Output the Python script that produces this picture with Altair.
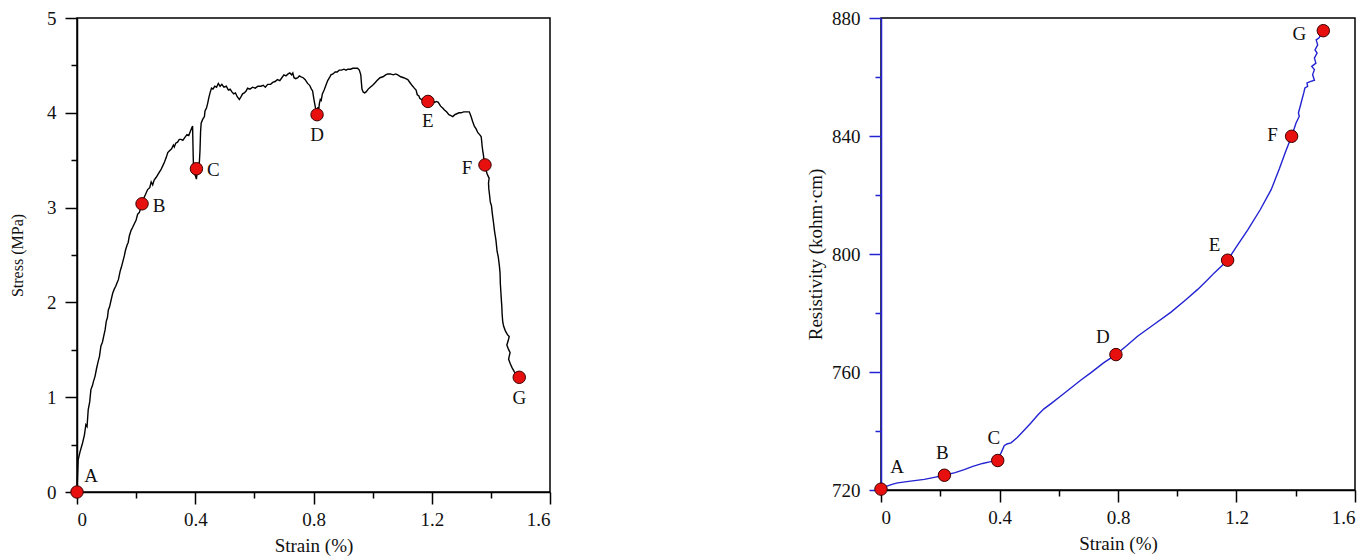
import altair as alt
import pandas as pd

FONT = "Liberation Serif"

# ---------------- Left panel: stress vs strain ----------------
s_strain = [0.0, 0.002, 0.004, 0.010, 0.019, 0.025, 0.030, 0.034, 0.038, 0.043, 0.047, 0.052, 0.056,
            0.061, 0.066, 0.071, 0.076, 0.081, 0.086, 0.090, 0.095, 0.099, 0.103, 0.106, 0.110, 0.115,
            0.121, 0.126, 0.131, 0.136, 0.140, 0.146, 0.150, 0.155, 0.160, 0.164, 0.170, 0.173, 0.177,
            0.183, 0.188, 0.194, 0.200, 0.205, 0.211, 0.216, 0.220, 0.226, 0.232, 0.239, 0.246, 0.251,
            0.256, 0.261, 0.268, 0.276, 0.284, 0.290, 0.296, 0.302, 0.307, 0.313, 0.320, 0.326, 0.329,
            0.334, 0.340, 0.346, 0.352, 0.358, 0.365, 0.372, 0.378, 0.383, 0.388, 0.391, 0.392, 0.393,
            0.394, 0.396, 0.400, 0.404, 0.406, 0.410, 0.414, 0.416, 0.418, 0.420, 0.425, 0.431, 0.433,
            0.438, 0.442, 0.446, 0.450, 0.455, 0.460, 0.466, 0.472, 0.478, 0.484, 0.490, 0.497, 0.505,
            0.512, 0.518, 0.524, 0.530, 0.536, 0.542, 0.549, 0.555, 0.560, 0.566, 0.572, 0.577, 0.585,
            0.594, 0.603, 0.612, 0.622, 0.630, 0.637, 0.645, 0.655, 0.662, 0.670, 0.678, 0.686, 0.693,
            0.700, 0.707, 0.714, 0.720, 0.726, 0.730, 0.734, 0.740, 0.747, 0.752, 0.758, 0.765, 0.772,
            0.780, 0.787, 0.793, 0.797, 0.801, 0.805, 0.808, 0.812, 0.815, 0.817, 0.820, 0.823, 0.826,
            0.830, 0.836, 0.842, 0.848, 0.854, 0.859, 0.866, 0.873, 0.880, 0.887, 0.895, 0.903, 0.910,
            0.916, 0.925, 0.933, 0.941, 0.949, 0.955, 0.960, 0.962, 0.964, 0.968, 0.973, 0.978, 0.985,
            0.992, 1.000, 1.006, 1.015, 1.025, 1.035, 1.044, 1.051, 1.060, 1.070, 1.078, 1.085, 1.095,
            1.105, 1.112, 1.119, 1.126, 1.133, 1.141, 1.147, 1.151, 1.156, 1.160, 1.166, 1.173, 1.180,
            1.187, 1.195, 1.203, 1.210, 1.216, 1.222, 1.230, 1.237, 1.243, 1.250, 1.258, 1.265, 1.271,
            1.278, 1.285, 1.292, 1.299, 1.308, 1.317, 1.327, 1.333, 1.338, 1.344, 1.350, 1.356, 1.362,
            1.367, 1.369, 1.370, 1.372, 1.375, 1.377, 1.380, 1.383, 1.388, 1.394, 1.392, 1.393, 1.396,
            1.398, 1.402, 1.404, 1.406, 1.409, 1.412, 1.415, 1.417, 1.419, 1.421, 1.425, 1.427, 1.429,
            1.431, 1.432, 1.434, 1.436, 1.437, 1.438, 1.440, 1.443, 1.449, 1.456, 1.462, 1.459, 1.454,
            1.459, 1.465, 1.462, 1.460, 1.466, 1.472, 1.479, 1.487, 1.496]
s_stress = [0.00, 0.18, 0.34, 0.42, 0.52, 0.60, 0.71, 0.69, 0.87, 0.95, 1.08, 1.12, 1.17,
            1.22, 1.30, 1.37, 1.43, 1.54, 1.58, 1.64, 1.71, 1.80, 1.84, 1.92, 1.95, 2.02,
            2.10, 2.14, 2.17, 2.21, 2.24, 2.33, 2.37, 2.43, 2.49, 2.55, 2.61, 2.63, 2.70,
            2.76, 2.79, 2.83, 2.87, 2.93, 2.95, 3.00, 3.04, 3.10, 3.14, 3.19, 3.21, 3.27,
            3.24, 3.29, 3.32, 3.36, 3.40, 3.44, 3.48, 3.53, 3.58, 3.60, 3.62, 3.66, 3.64,
            3.68, 3.69, 3.72, 3.72, 3.71, 3.74, 3.77, 3.76, 3.80, 3.84, 3.86, 3.70, 3.55,
            3.45, 3.36, 3.34, 3.30, 3.36, 3.45, 3.48, 3.60, 3.80, 3.89, 3.93, 3.96, 4.02,
            4.05, 4.10, 4.16, 4.21, 4.26, 4.25, 4.28, 4.27, 4.31, 4.28, 4.30, 4.27, 4.28,
            4.24, 4.25, 4.22, 4.20, 4.21, 4.17, 4.14, 4.17, 4.20, 4.21, 4.23, 4.26, 4.25,
            4.27, 4.26, 4.28, 4.28, 4.29, 4.27, 4.30, 4.30, 4.32, 4.33, 4.35, 4.34, 4.37,
            4.40, 4.39, 4.41, 4.42, 4.40, 4.42, 4.37, 4.36, 4.37, 4.39, 4.38, 4.37, 4.35,
            4.31, 4.29, 4.25, 4.23, 4.15, 4.08, 4.03, 3.98, 4.06, 4.02, 4.10, 4.14, 4.13,
            4.20, 4.24, 4.29, 4.34, 4.37, 4.40, 4.41, 4.43, 4.43, 4.45, 4.45, 4.46, 4.45,
            4.46, 4.46, 4.47, 4.47, 4.47, 4.45, 4.40, 4.32, 4.25, 4.22, 4.21, 4.22, 4.25,
            4.27, 4.29, 4.31, 4.34, 4.37, 4.38, 4.40, 4.41, 4.41, 4.40, 4.41, 4.40, 4.38,
            4.37, 4.36, 4.35, 4.32, 4.29, 4.26, 4.24, 4.19, 4.18, 4.15, 4.14, 4.12, 4.13,
            4.12, 4.12, 4.13, 4.11, 4.12, 4.11, 4.07, 4.05, 4.03, 4.01, 3.98, 3.97, 3.96,
            3.98, 3.99, 4.00, 4.00, 4.01, 4.01, 4.01, 3.96, 3.91, 3.86, 3.83, 3.79, 3.77,
            3.75, 3.70, 3.66, 3.61, 3.55, 3.49, 3.45, 3.40, 3.35, 3.31, 3.26, 3.20, 3.12,
            3.06, 3.02, 2.96, 2.91, 2.84, 2.76, 2.70, 2.66, 2.60, 2.54, 2.48, 2.43, 2.38,
            2.31, 2.20, 2.10, 2.00, 1.96, 1.88, 1.80, 1.75, 1.70, 1.66, 1.64, 1.60, 1.55,
            1.51, 1.47, 1.43, 1.40, 1.35, 1.31, 1.27, 1.24, 1.21]

s_pt_label = ["A", "B", "C", "D", "E", "F", "G"]
s_pt_strain = [0.0, 0.220, 0.404, 0.812, 1.187, 1.380, 1.496]
s_pt_stress = [0.0, 3.04, 3.41, 3.98, 4.12, 3.45, 1.21]

# ---------------- Right panel: resistivity vs strain ----------------
r_strain = [0.0, 0.02, 0.04, 0.056, 0.10, 0.146, 0.18, 0.214, 0.25, 0.281, 0.31, 0.343, 0.37,
            0.394, 0.405, 0.416, 0.425, 0.439, 0.46, 0.48, 0.506, 0.53, 0.55, 0.574, 0.61, 0.641,
            0.675, 0.709, 0.75, 0.793, 0.83, 0.866, 0.92, 0.979, 1.03, 1.069, 1.10, 1.125, 1.17,
            1.20, 1.238, 1.28, 1.317, 1.345, 1.365, 1.386, 1.401, 1.412, 1.409, 1.418, 1.427,
            1.431, 1.440, 1.438, 1.451, 1.463, 1.457, 1.463, 1.454, 1.468, 1.463, 1.472, 1.465,
            1.474, 1.469, 1.478, 1.493]
r_res = [720.3, 721.3, 722.0, 722.4, 723.0, 723.6, 724.3, 725.0, 725.9, 726.9, 728.0, 729.0, 729.6,
         730.5, 732.5, 735.0, 735.6, 736.0, 737.8, 739.9, 742.7, 745.5, 747.5, 749.3, 752.1, 754.6,
         757.3, 759.8, 763.0, 765.9, 769.0, 772.1, 776.0, 780.3, 784.6, 788.0, 791.0, 793.6, 797.9,
         802.5, 808.2, 815.0, 821.8, 829.0, 834.5, 839.9, 844.4, 846.7, 847.8, 851.2, 854.6,
         856.3, 856.8, 858.0, 858.5, 858.9, 860.8, 862.5, 863.6, 864.7, 866.4, 868.1, 869.2,
         870.9, 872.6, 873.2, 875.7]

r_pt_label = ["A", "B", "C", "D", "E", "F", "G"]
r_pt_strain = [0.0, 0.214, 0.394, 0.793, 1.170, 1.386, 1.493]
r_pt_res = [720.3, 725.0, 730.0, 765.9, 797.9, 839.9, 875.7]

# label offsets (style only)
s_offsets = {"A": (14, -16), "B": (17, 2), "C": (17, 1), "D": (0, 20),
             "E": (0, 20), "F": (-18, 3), "G": (0, 21)}
r_offsets = {"A": (16, -22), "B": (-2, -22), "C": (-4, -23), "D": (-13, -18),
             "E": (-13, -15), "F": (-19, -1), "G": (-24, 3)}

BLUE = "#2323d2"
RED = "#e8100f"


def panel(cx, cy, px, py, plabel, offsets, xmaj, xmin, ymaj, ymin, ydom, ytitle,
          line_color, yaxis_color, w, h, ytitle_pad, ytitle_size):
    curve = pd.DataFrame({"strain": cx, "val": cy, "idx": list(range(len(cx)))})
    pts = pd.DataFrame({"strain": px, "val": py, "label": plabel})
    xs = alt.Scale(domain=[0, 1.6], nice=False, zero=False)
    ys = alt.Scale(domain=ydom, nice=False, zero=False)

    main_x = alt.Axis(orient="bottom", values=xmaj, format="~r", tickSize=12, tickWidth=1.5,
                      domainWidth=1.5, domainColor="black", tickColor="black",
                      labelPadding=6, titlePadding=7, title="Strain (%)")
    minor_x = alt.Axis(orient="bottom", values=xmin, tickSize=6, tickWidth=1.5,
                       tickColor="black", labels=False, domain=False, title=None)
    main_y = alt.Axis(orient="left", values=ymaj, format="~r", tickSize=12, tickWidth=1.5,
                      domainWidth=1.5, domainColor=yaxis_color, tickColor=yaxis_color,
                      labelPadding=9, titlePadding=ytitle_pad, title=ytitle,
                      titleFontSize=ytitle_size)
    minor_y = alt.Axis(orient="left", values=ymin, tickSize=6, tickWidth=1.5,
                       tickColor=yaxis_color, labels=False, domain=False, title=None)

    line = alt.Chart(curve).mark_line(color=line_color, strokeWidth=1.4).encode(
        x=alt.X("strain:Q", scale=xs, axis=main_x),
        y=alt.Y("val:Q", scale=ys, axis=main_y),
        order="idx:Q",
    )
    dots = alt.Chart(pts).mark_circle(size=155, color=RED, stroke="#3a0000",
                                      strokeWidth=1, opacity=1).encode(
        x=alt.X("strain:Q", scale=xs, axis=minor_x),
        y=alt.Y("val:Q", scale=ys, axis=minor_y),
    )
    layers = [line, dots]
    for lab in plabel:
        dx, dy = offsets[lab]
        layers.append(
            alt.Chart(pts).transform_filter(alt.datum.label == lab).mark_text(
                font=FONT, fontSize=19, color="#111111", dx=dx, dy=dy,
                align="center", baseline="middle").encode(
                x=alt.X("strain:Q", scale=xs, axis=None),
                y=alt.Y("val:Q", scale=ys, axis=None),
                text="label:N",
            )
        )
    return alt.layer(*layers).resolve_axis(x="independent", y="independent").properties(
        width=w, height=h)


left = panel(s_strain, s_stress, s_pt_strain, s_pt_stress, s_pt_label, s_offsets,
             [0, 0.4, 0.8, 1.2, 1.6], [0.2, 0.6, 1.0, 1.4],
             [0, 1, 2, 3, 4, 5], [0.5, 1.5, 2.5, 3.5, 4.5], [0, 5],
             "Stress (MPa)", "black", "black", 473, 474, 21, 16)
right = panel(r_strain, r_res, r_pt_strain, r_pt_res, r_pt_label, r_offsets,
              [0, 0.4, 0.8, 1.2, 1.6], [0.2, 0.6, 1.0, 1.4],
              [720, 760, 800, 840, 880], [740, 780, 820, 860], [720, 880],
              "Resistivity (kohm·cm)", BLUE, BLUE, 474, 472, 6, 19)

chart = alt.hconcat(left, right, spacing=331, bounds="flush").properties(
    padding={"left": 0, "top": 0, "right": 0, "bottom": 0}
).configure_view(stroke="black", strokeWidth=1.5).configure_axis(
    labelFont=FONT, titleFont=FONT, labelFontSize=19, titleFontSize=19,
    labelColor="#111111", titleColor="#111111", titleFontWeight="normal", grid=False
)

chart.save("out.html", embed_options={"renderer": "svg", "actions": False})
